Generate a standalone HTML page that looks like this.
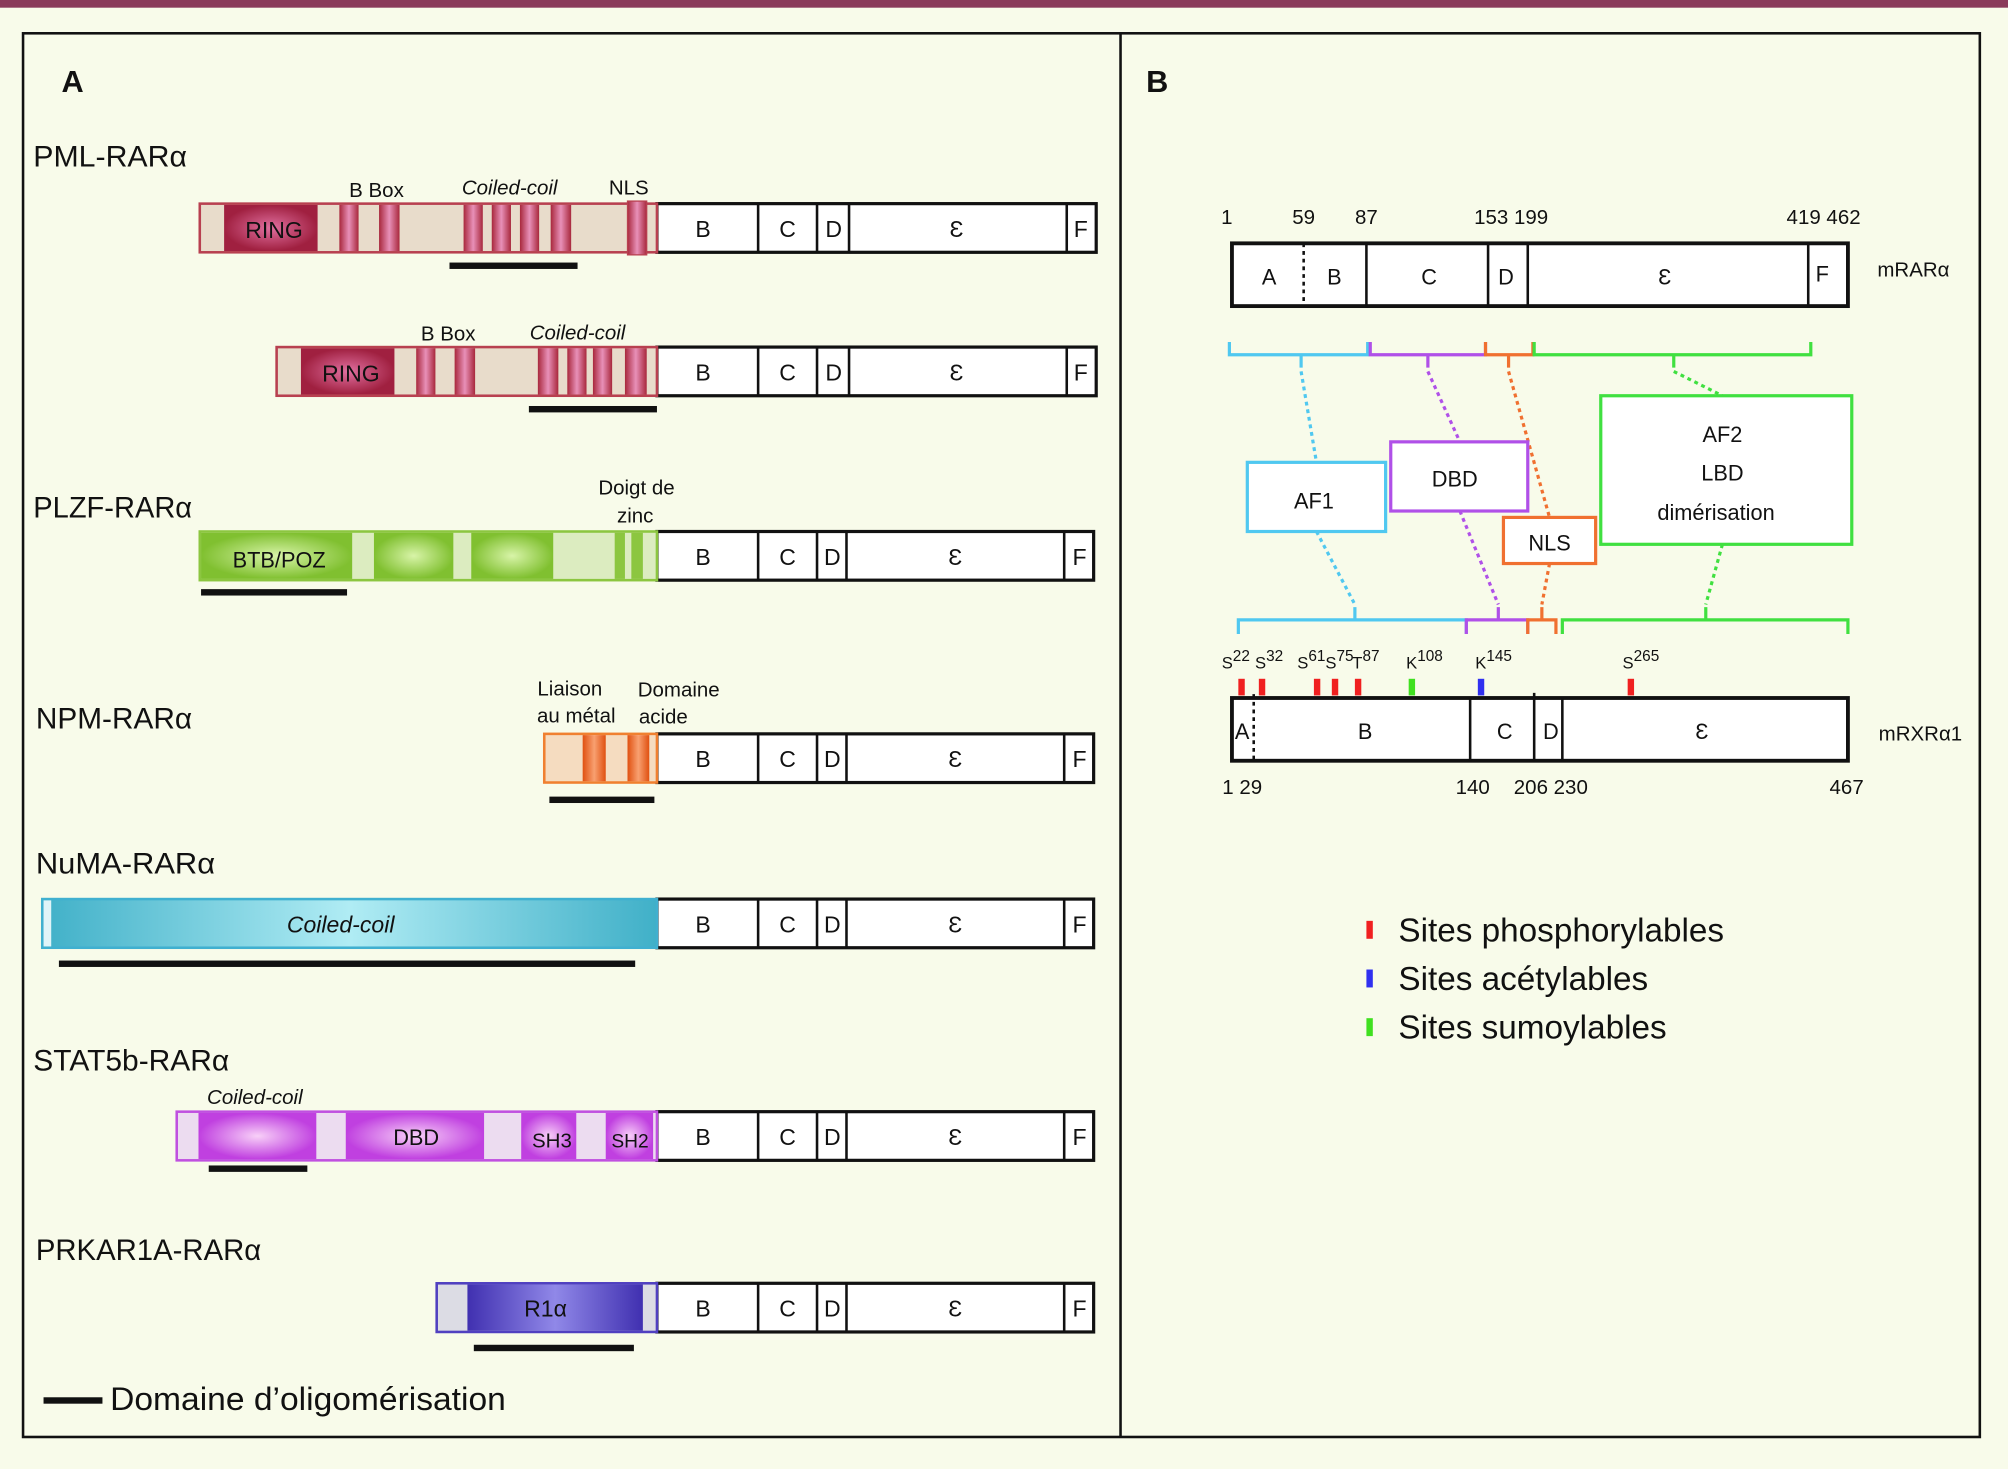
<!DOCTYPE html>
<html><head><meta charset="utf-8"><style>
html,body{margin:0;padding:0;background:#f8fbea}
svg{display:block}
text{font-family:"Liberation Sans Narrow","Liberation Sans",sans-serif;fill:#111}
</style></head><body>
<svg width="2008" height="1469" viewBox="0 0 1568 1147" preserveAspectRatio="none" xmlns="http://www.w3.org/2000/svg">
<defs>
<linearGradient id="pk" x1="0" x2="1"><stop offset="0" stop-color="#a8283c"/><stop offset=".5" stop-color="#e890b8"/><stop offset="1" stop-color="#a8283c"/></linearGradient>
<radialGradient id="pkb"><stop offset="0" stop-color="#e070a0"/><stop offset="1" stop-color="#a02040"/></radialGradient>
<radialGradient id="gr"><stop offset="0" stop-color="#d8f4a8"/><stop offset="1" stop-color="#80c030"/></radialGradient>
<linearGradient id="og" x1="0" x2="1"><stop offset="0" stop-color="#e05010"/><stop offset=".5" stop-color="#f8a070"/><stop offset="1" stop-color="#e05010"/></linearGradient>
<linearGradient id="cy" x1="0" x2="1"><stop offset="0" stop-color="#40b0c8"/><stop offset=".5" stop-color="#b0ecf4"/><stop offset="1" stop-color="#40b0c8"/></linearGradient>
<radialGradient id="mg"><stop offset="0" stop-color="#f8d0f8"/><stop offset="1" stop-color="#c040e0"/></radialGradient>
<linearGradient id="pu" x1="0" x2="1"><stop offset="0" stop-color="#4030b0"/><stop offset=".5" stop-color="#9088e8"/><stop offset="1" stop-color="#4030b0"/></linearGradient>
</defs>
<rect x="0" y="0" width="1568" height="1147" fill="#f8fbea"/>
<rect x="0" y="0" width="1568" height="6" fill="#8a3a5a"/>
<rect x="18" y="26" width="1528" height="1096" fill="none" stroke="#111" stroke-width="2"/>
<line x1="875" y1="26" x2="875" y2="1122" stroke="#111" stroke-width="2"/>
<text x="48" y="72" font-size="24" font-weight="bold">A</text>
<text x="895" y="72" font-size="24" font-weight="bold">B</text>

<g font-size="23">
<text x="26" y="130" textLength="120" lengthAdjust="spacingAndGlyphs">PML-RARα</text>
<text x="26" y="404" textLength="124" lengthAdjust="spacingAndGlyphs">PLZF-RARα</text>
<text x="28" y="569" textLength="122" lengthAdjust="spacingAndGlyphs">NPM-RARα</text>
<text x="28" y="682" textLength="140" lengthAdjust="spacingAndGlyphs">NuMA-RARα</text>
<text x="26" y="836" textLength="153" lengthAdjust="spacingAndGlyphs">STAT5b-RARα</text>
<text x="28" y="984" textLength="176" lengthAdjust="spacingAndGlyphs">PRKAR1A-RARα</text>
</g>

<g fill="#fff" stroke="#111" stroke-width="2.5">
<rect x="513" y="159" width="343" height="38"/><rect x="513" y="271" width="343" height="38"/>
<rect x="513" y="415" width="341" height="38"/><rect x="513" y="573" width="341" height="38"/>
<rect x="513" y="702" width="341" height="38"/><rect x="513" y="868" width="341" height="38"/>
<rect x="513" y="1002" width="341" height="38"/>
</g>
<g stroke="#111" stroke-width="2">
<path d="M592 159v38M638 159v38M663 159v38M833 159v38"/>
<path d="M592 271v38M638 271v38M663 271v38M833 271v38"/>
<path d="M592 415v38M638 415v38M661 415v38M831 415v38"/>
<path d="M592 573v38M638 573v38M661 573v38M831 573v38"/>
<path d="M592 702v38M638 702v38M661 702v38M831 702v38"/>
<path d="M592 868v38M638 868v38M661 868v38M831 868v38"/>
<path d="M592 1002v38M638 1002v38M661 1002v38M831 1002v38"/>
</g>
<g font-size="18" text-anchor="middle">
<text x="549" y="185">B</text><text x="615" y="185">C</text><text x="651" y="185">D</text><text x="747" y="185">Ɛ</text><text x="844" y="185">F</text>
<text x="549" y="297">B</text><text x="615" y="297">C</text><text x="651" y="297">D</text><text x="747" y="297">Ɛ</text><text x="844" y="297">F</text>
<text x="549" y="441">B</text><text x="615" y="441">C</text><text x="650" y="441">D</text><text x="746" y="441">Ɛ</text><text x="843" y="441">F</text>
<text x="549" y="599">B</text><text x="615" y="599">C</text><text x="650" y="599">D</text><text x="746" y="599">Ɛ</text><text x="843" y="599">F</text>
<text x="549" y="728">B</text><text x="615" y="728">C</text><text x="650" y="728">D</text><text x="746" y="728">Ɛ</text><text x="843" y="728">F</text>
<text x="549" y="894">B</text><text x="615" y="894">C</text><text x="650" y="894">D</text><text x="746" y="894">Ɛ</text><text x="843" y="894">F</text>
<text x="549" y="1028">B</text><text x="615" y="1028">C</text><text x="650" y="1028">D</text><text x="746" y="1028">Ɛ</text><text x="843" y="1028">F</text>
</g>

<rect x="156" y="159" width="357" height="38" fill="#e8dccb" stroke="#b84050" stroke-width="2"/>
<rect x="175" y="160" width="73" height="36" fill="url(#pkb)"/>
<g fill="url(#pk)"><rect x="265" y="160" width="15" height="36"/><rect x="296" y="160" width="16" height="36"/><rect x="362" y="160" width="15" height="36"/><rect x="384" y="160" width="15" height="36"/><rect x="406" y="160" width="15" height="36"/><rect x="430" y="160" width="16" height="36"/></g>
<rect x="490" y="157" width="15" height="42" fill="url(#pk)" stroke="#b84050"/>
<text x="214" y="186" font-size="18" text-anchor="middle">RING</text>
<text x="294" y="154" font-size="16" text-anchor="middle">B Box</text>
<text x="398" y="152" font-size="16" text-anchor="middle" font-style="italic">Coiled-coil</text>
<text x="491" y="152" font-size="16" text-anchor="middle">NLS</text>
<rect x="351" y="205" width="100" height="5" fill="#111"/>

<rect x="216" y="271" width="297" height="38" fill="#e8dccb" stroke="#b84050" stroke-width="2"/>
<rect x="235" y="272" width="73" height="36" fill="url(#pkb)"/>
<g fill="url(#pk)"><rect x="325" y="272" width="15" height="36"/><rect x="355" y="272" width="16" height="36"/><rect x="420" y="272" width="16" height="36"/><rect x="443" y="272" width="15" height="36"/><rect x="463" y="272" width="15" height="36"/><rect x="488" y="272" width="17" height="36"/></g>
<text x="274" y="298" font-size="18" text-anchor="middle">RING</text>
<text x="350" y="266" font-size="16" text-anchor="middle">B Box</text>
<text x="451" y="265" font-size="16" text-anchor="middle" font-style="italic">Coiled-coil</text>
<rect x="413" y="317" width="100" height="5" fill="#111"/>

<rect x="156" y="415" width="357" height="38" fill="#dcecc0" stroke="#8cc640" stroke-width="2"/>
<g fill="url(#gr)"><rect x="157" y="416" width="118" height="36"/><rect x="292" y="416" width="62" height="36"/><rect x="368" y="416" width="64" height="36"/></g>
<g fill="#8cc640"><rect x="480" y="416" width="8" height="36"/><rect x="493" y="416" width="9" height="36"/></g>
<text x="218" y="443" font-size="17" text-anchor="middle">BTB/POZ</text>
<text x="497" y="386" font-size="16" text-anchor="middle">Doigt de</text>
<text x="496" y="408" font-size="16" text-anchor="middle">zinc</text>
<rect x="157" y="460" width="114" height="5" fill="#111"/>

<rect x="425" y="573" width="88" height="38" fill="#f5dcc0" stroke="#f08030" stroke-width="2"/>
<g fill="url(#og)"><rect x="455" y="574" width="18" height="36"/><rect x="490" y="574" width="17" height="36"/></g>
<text x="445" y="543" font-size="16" text-anchor="middle">Liaison</text>
<text x="450" y="564" font-size="16" text-anchor="middle">au métal</text>
<text x="530" y="544" font-size="16" text-anchor="middle">Domaine</text>
<text x="518" y="565" font-size="16" text-anchor="middle">acide</text>
<rect x="429" y="622" width="82" height="5" fill="#111"/>

<rect x="33" y="702" width="480" height="38" fill="url(#cy)" stroke="#40b0d0" stroke-width="2"/>
<rect x="34" y="703" width="6" height="36" fill="#e0f4f8"/>
<text x="266" y="728" font-size="18" text-anchor="middle" font-style="italic">Coiled-coil</text>
<rect x="46" y="750" width="450" height="5" fill="#111"/>

<rect x="138" y="868" width="375" height="38" fill="#ecdcf0" stroke="#c050e0" stroke-width="2"/>
<g fill="url(#mg)"><rect x="155" y="869" width="92" height="36"/><rect x="270" y="869" width="108" height="36"/><rect x="407" y="869" width="43" height="36"/><rect x="473" y="869" width="37" height="36"/></g>
<text x="325" y="894" font-size="17" text-anchor="middle">DBD</text>
<text x="431" y="896" font-size="16" text-anchor="middle">SH3</text>
<text x="492" y="896" font-size="15" text-anchor="middle">SH2</text>
<text x="199" y="862" font-size="16" text-anchor="middle" font-style="italic">Coiled-coil</text>
<rect x="163" y="910" width="77" height="5" fill="#111"/>

<rect x="341" y="1002" width="172" height="38" fill="#dcdce4" stroke="#5040c0" stroke-width="2"/>
<rect x="365" y="1003" width="137" height="36" fill="url(#pu)"/>
<text x="426" y="1028" font-size="18" text-anchor="middle">R1α</text>
<rect x="370" y="1050" width="125" height="5" fill="#111"/>

<rect x="34" y="1091" width="46" height="5" fill="#111"/>
<text x="86" y="1101" font-size="25" textLength="309" lengthAdjust="spacingAndGlyphs">Domaine d’oligomérisation</text>

<rect x="962" y="190" width="481" height="49" fill="#fff" stroke="#111" stroke-width="3"/>
<line x1="1018" y1="190" x2="1018" y2="239" stroke="#111" stroke-width="2" stroke-dasharray="3,3"/>
<path d="M1067 190v49M1162 190v49M1193 190v49M1412 190v49" stroke="#111" stroke-width="2"/>
<g font-size="17" text-anchor="middle">
<text x="991" y="222">A</text><text x="1042" y="222">B</text><text x="1116" y="222">C</text><text x="1176" y="222">D</text><text x="1300" y="222">Ɛ</text><text x="1423" y="220">F</text>
</g>
<g font-size="16" text-anchor="middle">
<text x="958" y="175">1</text><text x="1018" y="175">59</text><text x="1067" y="175">87</text><text x="1180" y="175">153 199</text><text x="1424" y="175">419 462</text>
</g>
<text x="1466" y="216" font-size="16">mRARα</text>

<g fill="none" stroke-width="2.5">
<path d="M960 267v10h56v10M1016 277h52v-10" stroke="#50c8f0"/>
<path d="M1070 267v10h45v10M1115 277h45v-10" stroke="#b050e8"/>
<path d="M1160 267v10h18v10M1178 277h19v-10" stroke="#f07030"/>
<path d="M1198 267v10h109v10M1307 277h107v-10" stroke="#40e040"/>
<path d="M967 495v-11h91v-10M1058 484h87v11" stroke="#50c8f0"/>
<path d="M1145 495v-11h25v-10M1170 484h23v11" stroke="#b050e8"/>
<path d="M1193 495v-11h11v-10M1204 484h11v11" stroke="#f07030"/>
<path d="M1220 495v-11h112v-10M1332 484h111v11" stroke="#40e040"/>
</g>
<g fill="none" stroke-width="2.5" stroke-dasharray="3,3">
<path d="M1016 290L1028 361M1028 415L1058 472" stroke="#50c8f0"/>
<path d="M1115 290L1140 345M1140 399L1170 472" stroke="#b050e8"/>
<path d="M1178 290L1210 404M1210 440L1204 472" stroke="#f07030"/>
<path d="M1307 290L1345 309M1345 425L1332 472" stroke="#40e040"/>
</g>
<rect x="974" y="361" width="108" height="54" fill="#fff" stroke="#50c8f0" stroke-width="2.5"/>
<rect x="1086" y="345" width="107" height="54" fill="#fff" stroke="#b050e8" stroke-width="2.5"/>
<rect x="1174" y="404" width="72" height="36" fill="#fff" stroke="#f07030" stroke-width="2.5"/>
<rect x="1250" y="309" width="196" height="116" fill="#fff" stroke="#40e040" stroke-width="2.5"/>
<g font-size="17" text-anchor="middle">
<text x="1026" y="397">AF1</text><text x="1136" y="380">DBD</text><text x="1210" y="430">NLS</text>
<text x="1345" y="345">AF2</text><text x="1345" y="375">LBD</text><text x="1340" y="406">dimérisation</text>
</g>

<g font-size="13"><text x="954" y="522">S<tspan dy="-6" font-size="12">22</tspan></text><text x="980" y="522">S<tspan dy="-6" font-size="12">32</tspan></text><text x="1013" y="522">S<tspan dy="-6" font-size="12">61</tspan></text><text x="1035" y="522">S<tspan dy="-6" font-size="12">75</tspan></text><text x="1056" y="522">T<tspan dy="-6" font-size="12">87</tspan></text><text x="1098" y="522">K<tspan dy="-6" font-size="12">108</tspan></text><text x="1152" y="522">K<tspan dy="-6" font-size="12">145</tspan></text><text x="1267" y="522">S<tspan dy="-6" font-size="12">265</tspan></text></g>
<g fill="#f02020"><rect x="967" y="530" width="5" height="13"/><rect x="983" y="530" width="5" height="13"/><rect x="1026" y="530" width="5" height="13"/><rect x="1040" y="530" width="5" height="13"/><rect x="1058" y="530" width="5" height="13"/><rect x="1271" y="530" width="5" height="13"/></g>
<rect x="1100" y="530" width="5" height="13" fill="#40e020"/>
<rect x="1154" y="530" width="5" height="13" fill="#3030f0"/>
<rect x="962" y="545" width="481" height="49" fill="#fff" stroke="#111" stroke-width="3"/>
<line x1="979" y1="542" x2="979" y2="594" stroke="#111" stroke-width="2" stroke-dasharray="3,3"/>
<path d="M1148 545v49M1198 541v53M1220 545v49" stroke="#111" stroke-width="2"/>
<g font-size="17" text-anchor="middle">
<text x="970" y="577">A</text><text x="1066" y="577">B</text><text x="1175" y="577">C</text><text x="1211" y="577">D</text><text x="1329" y="577">Ɛ</text>
</g>
<g font-size="16" text-anchor="middle">
<text x="970" y="620">1 29</text><text x="1150" y="620">140</text><text x="1211" y="620">206 230</text><text x="1442" y="620">467</text>
</g>
<text x="1467" y="578" font-size="16">mRXRα1</text>

<rect x="1067" y="719" width="5" height="14" fill="#f02020"/>
<rect x="1067" y="757" width="5" height="14" fill="#3030f0"/>
<rect x="1067" y="795" width="5" height="14" fill="#40e020"/>
<g font-size="26"><text x="1092" y="735">Sites phosphorylables</text><text x="1092" y="773">Sites acétylables</text><text x="1092" y="811">Sites sumoylables</text></g>
</svg>
</body></html>
